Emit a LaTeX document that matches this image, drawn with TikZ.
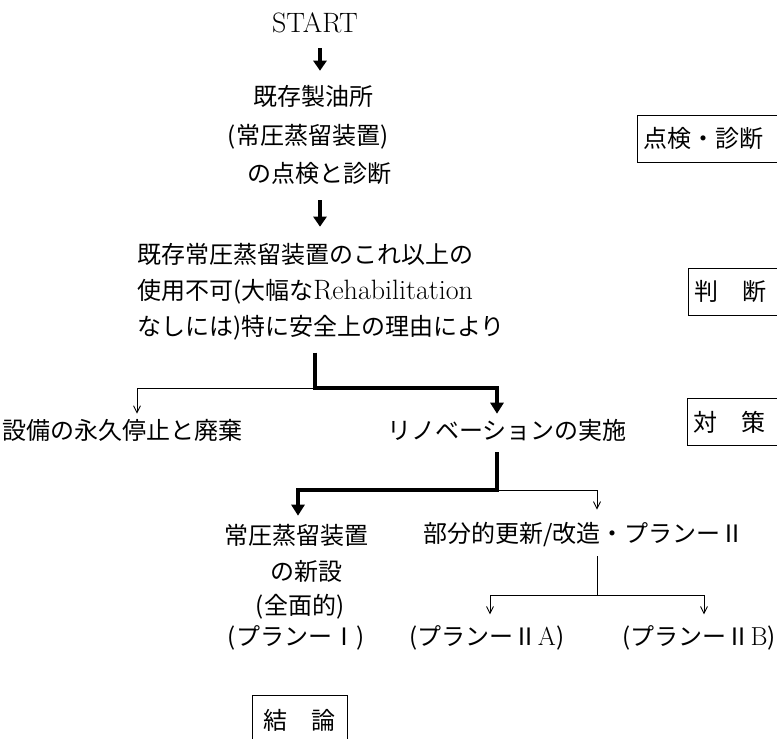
\documentclass[tikz,border=0pt]{standalone}
\usepackage{fontspec}
\newfontfamily\cjk{Noto Sans CJK JP}
\usetikzlibrary{arrows.meta}
\begin{document}
\begin{tikzpicture}[x=1pt,y=-1pt,
  jt/.style={inner sep=0pt, font=\cjk\fontsize{24}{28}\selectfont},
  lt/.style={inner sep=0pt, font=\rmfamily\fontsize{28}{32}\selectfont},
  rbox/.style={draw, line width=0.8pt, inner xsep=6pt, inner ysep=0pt, minimum height=47pt,
    text width=150pt, align=left, anchor=north west, font=\cjk\fontsize{24}{28}\selectfont},
  cbox/.style={draw, line width=0.8pt, inner sep=0pt, minimum width=95pt, minimum height=50pt,
    anchor=north west, font=\cjk\fontsize{24}{28}\selectfont},
  thickline/.style={line width=4.5pt, line join=miter},
  thickarrow/.style={line width=4.5pt, line join=miter, -{Triangle[width=13pt,length=11pt]}},
  smallarrow/.style={line width=4pt, -{Triangle[width=13pt,length=10pt]}},
  thinline/.style={line width=0.9pt},
  thinarrow/.style={line width=0.9pt, -{Straight Barb[length=7pt,width=7pt]}}
]
\useasboundingbox (0,0) rectangle (777,739);
\clip (0,0) rectangle (777,739);

% top column
\node[lt] (start) at (315,23) {START};
\node[jt] (n1a) at (313,96) {既存製油所};
\node[jt] (n1b) at (308,137) {(常圧蒸留装置)};
\node[jt] (n1c) at (319,173) {の点検と診断};
\coordinate (ax) at (320,0);
\draw[smallarrow, shorten <=15pt, shorten >=14pt] (start.south -| ax) -- (n1a.north -| ax);

\node[jt, anchor=west] (n2a) at (137,254) {既存常圧蒸留装置のこれ以上の};
\node[jt, anchor=west] (n2b) at (137,292) {使用不可(大幅な{\rmfamily\fontsize{28}{30}\selectfont Rehabilitation}};
\node[jt, anchor=west] (n2c) at (137,328) {なしには)特に安全上の理由により};
\draw[smallarrow, shorten <=16pt, shorten >=16pt] (n1c.south -| ax) -- (n2a.north -| ax);

% first branch
\node[jt, anchor=west] (n3a) at (2,430) {設備の永久停止と廃棄};
\node[jt, anchor=west] (n3b) at (387,430) {リノベーションの実施};
\coordinate (j1) at (315,388);
\coordinate (l1) at (137,388);
\coordinate (r1) at (497,388);
\draw[thinarrow, shorten >=5pt] (j1) -- (l1) -- (n3a.north -| l1);
\draw[thickarrow, shorten <=12pt, shorten >=5pt] (n2c.south -| j1) -- (j1) -- (r1) -- (n3b.north -| r1);

% second branch
\node[jt] (n4a) at (296,535) {常圧蒸留装置};
\node[jt] (n4b) at (306,571) {の新設};
\node[jt] (n4c) at (300,607) {(全面的)};
\node[jt] (n4d) at (296,638) {(プランーⅠ)};
\node[jt, anchor=west] (n5) at (423,535) {部分的更新/改造・プランーⅡ};
\coordinate (j2) at (497,490);
\coordinate (l2) at (298,490);
\coordinate (r2) at (597,490);
\draw[thickarrow, shorten <=11pt, shorten >=8pt] (n3b.south -| j2) -- (j2) -- (l2) -- (n4a.north -| l2);
\draw[thinarrow, shorten >=13pt] (j2) -- (r2) -- (n5.north -| r2);

% third branch
\node[jt] (n6a) at (487,638) {(プランーⅡ{\rmfamily\fontsize{26}{30}\selectfont A})};
\node[jt] (n6b) at (699,638) {(プランーⅡ{\rmfamily\fontsize{26}{30}\selectfont B})};
\coordinate (j3) at (597,595);
\coordinate (l3) at (490,595);
\coordinate (r3) at (704,595);
\draw[thinline, shorten <=9pt] (n5.south -| j3) -- (j3);
\draw[thinarrow, shorten >=11pt] (j3) -- (l3) -- (n6a.north -| l3);
\draw[thinarrow, shorten >=11pt] (j3) -- (r3) -- (n6b.north -| r3);

% stage labels
\node[rbox] (s1) at (637,115) {点検・診断};
\node[rbox] (s2) at (688,268) {判　断};
\node[rbox] (s3) at (687,398) {対　策};
\node[cbox] (s4) at (252,695) {結　論};
\end{tikzpicture}
\end{document}
